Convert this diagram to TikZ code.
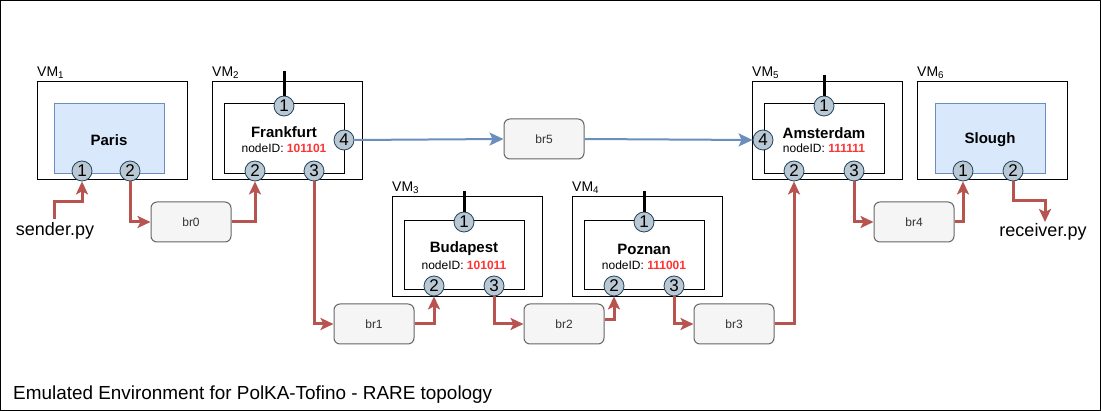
\documentclass[tikz,border=0pt]{standalone}
\usepackage{fontspec}
\setmainfont{Liberation Sans}
\usetikzlibrary{arrows.meta}
\definecolor{redln}{HTML}{B85450}
\definecolor{blueln}{HTML}{6C8EBF}
\definecolor{portfill}{HTML}{BAC8D3}
\definecolor{portline}{HTML}{23445D}
\definecolor{brfill}{HTML}{F5F5F5}
\definecolor{brline}{HTML}{666666}
\definecolor{hostfill}{HTML}{DAE8FC}
\definecolor{idred}{HTML}{FF3333}
\newcommand{\fs}[1]{\fontsize{#1}{#1}\selectfont}
\tikzset{
  vmbox/.style={draw=black, line width=1pt, minimum width=150pt, inner sep=0pt},
  swbox/.style={draw=black, line width=1pt, fill=white, minimum width=120pt, minimum height=70pt, inner sep=0pt},
  hostbox/.style={draw=blueln, line width=1pt, fill=hostfill, minimum width=110pt, minimum height=70pt, inner sep=0pt},
  port/.style={circle, draw=portline, line width=0.8pt, fill=portfill, minimum size=20pt, inner sep=0pt, font=\fs{17}},
  brbox/.style={draw=brline, line width=1pt, fill=brfill, rounded corners=6pt, minimum width=80pt, minimum height=40pt, inner sep=0pt, font=\fs{12}, text=black!80},
  redarrow/.style={draw=redln, line width=3pt, -{Stealth[length=13pt,width=12pt,inset=3pt]}},
  bluearrow/.style={draw=blueln, line width=2pt, -{Stealth[length=14pt,width=13pt,inset=3pt]}},
  antenna/.style={draw=black, line width=3pt},
  vmlabel/.style={anchor=south west, inner sep=0pt, font=\fs{14}},
  city/.style={font=\bfseries\fs{15}, inner sep=0pt},
  nid/.style={font=\fs{12}, inner sep=0pt},
  bigtxt/.style={font=\fs{18}, inner sep=0pt},
}
\begin{document}
\begin{tikzpicture}[x=1pt,y=-1pt]
\useasboundingbox (0,0) rectangle (1101,411);
\node[draw=black, line width=1pt, minimum width=1100pt, minimum height=410pt, inner sep=0pt] (frame) at (550.5,205.5) {};

% VM boxes
\node[vmbox, minimum height=98pt] (vm1) at (112,131) {};
\node[vmbox, minimum height=98pt] (vm2) at (287,131) {};
\node[vmbox, minimum height=100pt] (vm3) at (467,247) {};
\node[vmbox, minimum height=100pt] (vm4) at (647,247) {};
\node[vmbox, minimum height=98pt] (vm5) at (827,131) {};
\node[vmbox, minimum height=98pt] (vm6) at (992,131) {};

\node[vmlabel] (l1) at (37,79) {VM\textsubscript{1}};
\node[vmlabel] (l2) at (212,79) {VM\textsubscript{2}};
\node[vmlabel] (l3) at (392,194) {VM\textsubscript{3}};
\node[vmlabel] (l4) at (572,194) {VM\textsubscript{4}};
\node[vmlabel] (l5) at (752,79) {VM\textsubscript{5}};
\node[vmlabel] (l6) at (917,79) {VM\textsubscript{6}};

% inner switches / hosts
\node[hostbox] (paris) at (109,139) {};
\node[city] (parist) at (109,140) {Paris};
\node[swbox] (fra) at (284,139) {};
\node[city] (frat) at (284,132) {Frankfurt};
\node[nid] (fraid) at (284,148) {nodeID: \textcolor{idred}{\bfseries 101101}};
\node[swbox, minimum height=69pt] (bud) at (464,255.5) {};
\node[city] (budt) at (464,249) {Budapest};
\node[nid] (budid) at (464,265) {nodeID: \textcolor{idred}{\bfseries 101011}};
\node[swbox, minimum height=69pt] (poz) at (644,255.5) {};
\node[city] (pozt) at (644,249) {Poznan};
\node[nid] (pozid) at (644,265) {nodeID: \textcolor{idred}{\bfseries 111001}};
\node[swbox] (ams) at (824,139) {};
\node[city] (amst) at (824,133) {Amsterdam};
\node[nid] (amsid) at (824,148) {nodeID: \textcolor{idred}{\bfseries 111111}};
\node[hostbox] (slo) at (990,139) {};
\node[city] (slot) at (990,140) {Slough};

% antenna tops
\coordinate (fa) at (284,71);
\coordinate (ba) at (464,191);
\coordinate (za) at (644,191);
\coordinate (aa) at (824,75);

% ports
\node[port] (pp1) at (82,171) {1};
\node[port] (pp2) at (130,171) {2};
\node[port] (fp1) at (284,106) {1};
\node[port] (fp2) at (255,171) {2};
\node[port] (fp3) at (314,171) {3};
\node[port] (fp4) at (344,140) {4};
\node[port] (bp1) at (464,222) {1};
\node[port] (bp2) at (434,286) {2};
\node[port] (bp3) at (494,286) {3};
\node[port] (zp1) at (644,222) {1};
\node[port] (zp2) at (614,286) {2};
\node[port] (zp3) at (674,286) {3};
\node[port] (ap1) at (824,106) {1};
\node[port] (ap2) at (794,171) {2};
\node[port] (ap3) at (854,171) {3};
\node[port] (ap4) at (763,140) {4};
\node[port] (sp1) at (963,171) {1};
\node[port] (sp2) at (1013,171) {2};

\draw[antenna] (fa) -- (fp1.north);
\draw[antenna] (ba) -- (bp1.north);
\draw[antenna] (za) -- (zp1.north);
\draw[antenna] (aa) -- (ap1.north);

% bridges
\node[brbox] (br0) at (191,222) {br0};
\node[brbox] (br1) at (374,324) {br1};
\node[brbox] (br2) at (564,324) {br2};
\node[brbox] (br3) at (734,324) {br3};
\node[brbox] (br4) at (914,222) {br4};
\node[brbox] (br5) at (544,139) {br5};

% texts
\node[bigtxt] (sender) at (55,231) {sender.py};
\node[bigtxt] (receiver) at (1043,232) {receiver.py};
\node[bigtxt, font=\fs{18.9}, anchor=west] (title) at (13,395) {Emulated Environment for PolKA-Tofino - RARE topology};

% red data path
\coordinate (s0) at (54,219);
\coordinate (rcv) at (1045,222);
\draw[redarrow] (s0) -- ++(0,-17) -| (pp1.south);
\draw[redarrow] (pp2.south) |- (br0.west);
\draw[redarrow] (br0.east) -| (fp2.south);
\draw[redarrow] (fp3.south) |- (br1.west);
\draw[redarrow] (br1.east) -| (bp2.south);
\draw[redarrow] (bp3.south) |- (br2.west);
\draw[redarrow] ([yshift=4pt]br2.east) -| (zp2.south);
\draw[redarrow] (zp3.south) |- (br3.west);
\draw[redarrow] (br3.east) -| (ap2.south);
\draw[redarrow] (ap3.south) |- (br4.west);
\draw[redarrow] (br4.east) -| (sp1.south);
\draw[redarrow] (sp2.south) -- ++(0,19) -| (rcv);

% blue path
\draw[bluearrow] (fp4.east) -- (br5.west);
\draw[bluearrow] (br5.east) -- (ap4.west);
\end{tikzpicture}
\end{document}
